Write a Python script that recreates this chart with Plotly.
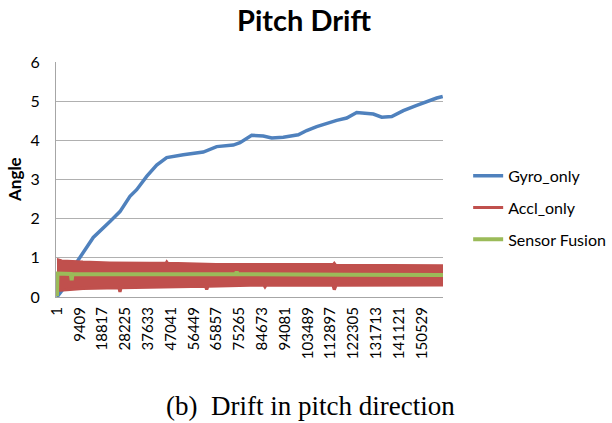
import plotly.graph_objects as go

# ---- data ----
tick_labels = ["1", "9409", "18817", "28225", "37633", "47041", "56449", "65857",
               "75265", "84673", "94081", "103489", "112897", "122305", "131713",
               "141121", "150529"]
tick_vals = [int(t) for t in tick_labels]

gyro_x = [1, 3400, 7430, 10860, 14980, 21880, 26000, 30130, 32900, 37020, 41150,
          45280, 48000, 52130, 60390, 65920, 72770, 75530, 80360, 85150, 88620,
          93410, 99600, 103070, 107200, 111980, 115450, 119580, 123700, 130560,
          134030, 138160, 142950, 148480, 152610, 156730, 159210]
gyro_y = [0.0, 0.27, 0.82, 1.15, 1.52, 1.93, 2.18, 2.57, 2.74, 3.08, 3.37,
          3.56, 3.59, 3.63, 3.70, 3.84, 3.88, 3.94, 4.13, 4.11, 4.06,
          4.08, 4.14, 4.25, 4.35, 4.45, 4.51, 4.57, 4.71, 4.67,
          4.59, 4.61, 4.76, 4.89, 4.99, 5.08, 5.12]

accl_up_x = [1, 2065, 10730, 21880, 38390, 44780, 45280, 45820, 65630, 79660,
             113920, 114460, 115160, 159320]
accl_up_y = [0.98, 0.94, 0.91, 0.89, 0.88, 0.88, 0.93, 0.88, 0.85, 0.85,
             0.85, 0.89, 0.83, 0.82]
accl_lo_x = [1, 5370, 10730, 25590, 26000, 26420, 38390, 61300, 61790, 62330,
             79660, 85440, 85850, 86270, 113920, 114460, 115160, 159320]
accl_lo_y = [0.17, 0.19, 0.22, 0.24, 0.13, 0.24, 0.26, 0.28, 0.19, 0.28,
             0.30, 0.30, 0.26, 0.30, 0.30, 0.19, 0.30, 0.31]

fusion_x = [1, 200, 5700, 6070, 6400, 40000, 73700, 74170, 74600, 120000, 159320]
fusion_y = [0.02, 0.60, 0.59, 0.43, 0.59, 0.58, 0.58, 0.64, 0.58, 0.57, 0.56]

BLUE = "#4F81BD"
RED = "#C0504D"
GREEN = "#9BBB59"
FONT = "Lato"

fig = go.Figure()
fig.add_trace(go.Scatter(x=gyro_x, y=gyro_y, mode="lines", name="Gyro_only",
                         line=dict(color=BLUE, width=3.5), legendgroup="g"))
fig.add_trace(go.Scatter(x=accl_lo_x, y=accl_lo_y, mode="lines", name="Accl_only",
                         line=dict(color=RED, width=3.2), legendgroup="a"))
fig.add_trace(go.Scatter(x=accl_up_x, y=accl_up_y, mode="lines", name="Accl_only",
                         line=dict(color=RED, width=1.5), fill="tonexty",
                         fillcolor=RED, showlegend=False, legendgroup="a"))
fig.add_trace(go.Scatter(x=fusion_x, y=fusion_y, mode="lines", name="Sensor Fusion",
                         line=dict(color=GREEN, width=4), legendgroup="f"))

fig.update_layout(
    width=612, height=423,
    margin=dict(l=56, r=169, t=62, b=126, autoexpand=False),
    paper_bgcolor="white", plot_bgcolor="white",
    font=dict(family=FONT, size=14, color="#000000"),
    title=dict(text="<b>Pitch Drift</b>", x=304 / 612, xref="container",
               xanchor="center", y=1 - 21 / 423, yref="container",
               yanchor="middle", font=dict(family=FONT, size=29, color="#000")),
    showlegend=True,
    legend=dict(x=1.065, xanchor="left", y=0.588, yanchor="top",
                traceorder="grouped", tracegroupgap=8,
                font=dict(family=FONT, size=16, color="#000"),
                bgcolor="rgba(0,0,0,0)"),
    xaxis=dict(range=[-400, 159320], tickmode="array", tickvals=tick_vals,
               ticktext=tick_labels, tickangle=-90, showgrid=False,
               showline=True, linecolor="#a6a6a6", linewidth=1,
               ticks="", ticklabelstandoff=3, zeroline=False,
               tickfont=dict(family=FONT, size=15, color="#000")),
    yaxis=dict(range=[0, 6], tickvals=[0, 1, 2, 3, 4, 5, 6], showgrid=True,
               gridcolor="#b0b0b0", gridwidth=1, showline=True,
               linecolor="#a6a6a6", linewidth=1, zeroline=False, ticks="",
               ticklabelstandoff=12,
               tickfont=dict(family=FONT, size=16, color="#000")),
    annotations=[
        dict(text="<b>Angle</b>", x=(15 - 56) / 387, xref="paper", y=0.498,
             yref="paper", textangle=-90, showarrow=False, xanchor="center",
             yanchor="middle", font=dict(family=FONT, size=17, color="#000")),
        dict(text="(b)\u00a0\u00a0Drift in pitch direction", x=(310 - 56) / 387,
             xref="paper", y=-0.464, yref="paper", showarrow=False,
             xanchor="center", yanchor="middle",
             font=dict(family="Liberation Serif", size=27, color="#000")),
    ],
)

fig.write_html("out.html", config={"displayModeBar": False},
               post_script="document.body.style.margin='0';document.body.style.padding='0';")
